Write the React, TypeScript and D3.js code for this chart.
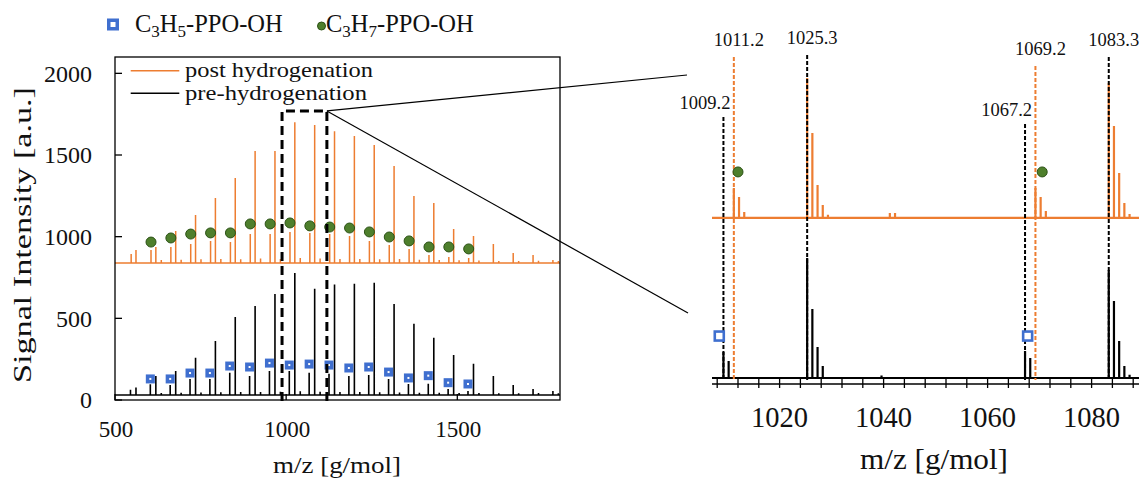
import React from "react";
import * as d3 from "d3";

const W = 1139;
const H = 482;
const FONT = '"Liberation Serif", "Times New Roman", Times, serif';
const ORANGE = "#ED7D31";
const BLUE = "#3F6FCF";
const GREEN = "#4E7F2C";
const GREEN_DARK = "#2C5216";

// ---------- full spectrum (left panel) ----------
// C3H7-PPO-OH family (post hydrogenation, orange) and the shared main series
const C3H7_MZ = [547.2, 605.2, 663.2, 721.2, 779.2, 837.2, 895.2, 953.2, 1011.2, 1069.2, 1127.2, 1185.2, 1243.2, 1301.2, 1359.2, 1417.2, 1475.2, 1533.2];
const POST_C3H7_INT = [55, 80, 98, 116, 135, 128, 177, 177, 190, 183, 177, 165, 135, 110, 86, 49, 37, 31];

// C3H5-PPO-OH family (pre hydrogenation, black)
const C3H5_MZ = [545.2, 603.2, 661.2, 719.2, 777.2, 835.2, 893.2, 951.2, 1009.2, 1067.2, 1125.2, 1183.2, 1241.2, 1299.2, 1357.2, 1415.2, 1473.2, 1531.2];
const PRE_C3H5_INT = [31, 65, 61, 98, 98, 136, 116, 147, 147, 136, 130, 116, 122, 98, 67, 69, 37, 24];

// dominant series, present in both spectra
const MAIN_MZ = [561.3, 619.3, 677.3, 735.3, 793.3, 851.3, 909.3, 967.3, 1025.3, 1083.3, 1141.3, 1199.3, 1257.3, 1315.3, 1373.3, 1431.3, 1489.3, 1547.3, 1605.3, 1663.3, 1721.3, 1779.3];
const POST_MAIN_INT = [80, 98, 196, 294, 398, 520, 685, 685, 862, 844, 807, 777, 722, 593, 410, 367, 208, 165, 116, 61, 49, 18];
const PRE_MAIN_INT = [45, 116, 147, 228, 330, 477, 544, 618, 746, 650, 676, 681, 687, 557, 436, 350, 245, 191, 116, 61, 37, 24];

// tiny side peaks
const MINOR_MZ = [635.2, 693.2, 751.2, 809.2, 867.2, 925.2, 983.2, 1041.2, 1099.2, 1157.2, 1215.2, 1273.2, 1331.2, 1389.2, 1447.2, 1505.2, 1563.2, 1621.2, 1679.2, 1737.2, 1795.2];
const POST_MINOR_INT = [18, 20, 22, 25, 22, 28, 25, 30, 28, 25, 24, 22, 25, 20, 18, 16, 15, 12, 12, 14, 12];
const PRE_MINOR_INT = [12, 14, 15, 16, 18, 18, 20, 22, 20, 18, 18, 16, 15, 14, 14, 12, 12, 10, 10, 12, 10];

// baselines of the two traces
const POST_BASE = 839;
const PRE_BASE = 31;

// markers (left panel)
const GREEN_MZ = [605.2, 663.2, 721.2, 779.2, 837.2, 895.2, 953.2, 1011.2, 1069.2, 1127.2, 1185.2, 1243.2, 1301.2, 1359.2, 1417.2, 1475.2, 1533.2];
const GREEN_INT = [967, 992, 1016, 1023, 1023, 1078, 1078, 1084, 1066, 1059, 1053, 1029, 998, 974, 937, 937, 925];
const BLUE_MZ = [603.2, 661.2, 719.2, 777.2, 835.2, 893.2, 951.2, 1009.2, 1067.2, 1125.2, 1183.2, 1241.2, 1299.2, 1357.2, 1415.2, 1473.2, 1531.2];
const BLUE_INT = [129, 129, 165, 165, 208, 202, 226, 214, 220, 214, 196, 202, 171, 135, 149, 106, 98];

const X_TICKS_L = [500, 1000, 1500];
const Y_TICKS_L = [0, 500, 1000, 1500, 2000];
const BOX_MZ = [988, 1119];
const BOX_TOP = 1770;

// ---------- zoom (right panel) ----------
const ZOOM_PRE_MZ = [1009.2, 1010.2, 1025.3, 1026.3, 1027.3, 1028.3, 1039.6, 1067.2, 1068.2, 1083.3, 1084.3, 1085.3, 1086.3, 1087.3];
const ZOOM_PRE_INT = [160, 105, 741, 426, 191, 74, 15, 167, 123, 667, 475, 228, 74, 20];
const ZOOM_POST_MZ = [1011.2, 1012.2, 1013.2, 1025.3, 1026.3, 1027.3, 1028.3, 1029.3, 1041.2, 1042.2, 1069.2, 1070.2, 1071.2, 1083.3, 1084.3, 1085.3, 1086.3, 1087.3];
const ZOOM_POST_INT = [185, 130, 37, 864, 525, 204, 80, 19, 30, 30, 185, 130, 43, 833, 568, 278, 93, 25];
const ZOOM_PRE_BASE = 37;
const ZOOM_POST_BASE = 1025;
const ZOOM_GREEN_MZ = [1012.0, 1070.5];
const ZOOM_GREEN_INT = [1309, 1309];
const ZOOM_BLUE_MZ = [1008.4, 1067.7];
const ZOOM_BLUE_INT = [296, 296];
const ZOOM_TICKS = [1020, 1040, 1060, 1080];
const ZOOM_MINOR = [1008, 1012, 1016, 1020, 1024, 1028, 1032, 1036, 1040, 1044, 1048, 1052, 1056, 1060, 1064, 1068, 1072, 1076, 1080, 1084, 1088];

const ANNOT_MZ = [1009.2, 1011.2, 1025.3, 1067.2, 1069.2, 1083.3];
const ANNOT_LABEL = ["1009.2", "1011.2", "1025.3", "1067.2", "1069.2", "1083.3"];
const ANNOT_SERIES = ["pre", "post", "pre", "pre", "post", "pre"];
const ANNOT_TOP = [1648, 2019, 2031, 1605, 1963, 2019];

type Scale = d3.ScaleLinear<number, number>;

function sticks(mz: number[], ints: number[], base: number, x: Scale, y: Scale) {
  const order = mz.map((m, i) => [m, ints[i]]).sort((a, b) => a[0] - b[0]);
  const y0 = y(base);
  const pts: [number, number][] = [[x.range()[0], y0]];
  order.forEach(([m, v]) => {
    const px = x(m);
    pts.push([px, y0], [px, y(base + v)], [px, y0]);
  });
  pts.push([x.range()[1], y0]);
  return d3.line()(pts) || "";
}

function Formula({ sub }: { sub: string }) {
  return (
    <>
      C<tspan fontSize="17" dy="5">3</tspan>
      <tspan dy="-5">H</tspan>
      <tspan fontSize="17" dy="5">{sub}</tspan>
      <tspan dy="-5">-PPO-OH</tspan>
    </>
  );
}

export default function App() {
  const xL = d3.scaleLinear().domain([500, 1800]).range([115, 560]);
  const yL = d3.scaleLinear().domain([0, 2100]).range([400, 57]);
  const xR = d3.scaleLinear().domain([1007, 1089.5]).range([712, 1141]);
  const yR = d3.scaleLinear().domain([0, 2100]).range([384, 43.8]);

  const postPath = sticks(
    [...C3H7_MZ, ...MAIN_MZ, ...MINOR_MZ],
    [...POST_C3H7_INT, ...POST_MAIN_INT, ...POST_MINOR_INT],
    POST_BASE, xL, yL
  );
  const prePath = sticks(
    [...C3H5_MZ, ...MAIN_MZ, ...MINOR_MZ],
    [...PRE_C3H5_INT, ...PRE_MAIN_INT, ...PRE_MINOR_INT],
    PRE_BASE, xL, yL
  );
  const zoomPre = sticks(ZOOM_PRE_MZ, ZOOM_PRE_INT, ZOOM_PRE_BASE, xR, yR);
  const zoomPost = sticks(ZOOM_POST_MZ, ZOOM_POST_INT, ZOOM_POST_BASE, xR, yR);

  const corner: [number, number] = [xL(BOX_MZ[1]), yL(BOX_TOP)];
  const axisY = yR(0);

  return (
    <svg
      width={W}
      height={H}
      style={{ position: "fixed", left: 0, top: 0, display: "block", background: "#fff" }}
      fontFamily={FONT}
    >
      {/* top legend */}
      <rect x={108.75} y={20.25} width={8.5} height={8.5} fill="#fff" stroke={BLUE} strokeWidth={3.5} />
      <text x={135} y={32} fontSize={24.5} fill="#111">
        <Formula sub="5" />
      </text>
      <circle cx={321.5} cy={26} r={4} fill={GREEN} stroke={GREEN_DARK} strokeWidth={1} />
      <text x={326} y={32} fontSize={24.5} fill="#111">
        <Formula sub="7" />
      </text>

      {/* left panel traces */}
      <path d={postPath} fill="none" stroke={ORANGE} strokeWidth={1.5} />
      <path d={prePath} fill="none" stroke="#000" strokeWidth={1.6} />

      {GREEN_MZ.map((m, i) => (
        <circle key={"g" + i} cx={xL(m)} cy={yL(GREEN_INT[i])} r={5} fill={GREEN} stroke={GREEN_DARK} strokeWidth={1} />
      ))}
      {BLUE_MZ.map((m, i) => (
        <rect key={"b" + i} x={xL(m) - 2.75} y={yL(BLUE_INT[i]) - 2.75} width={5.5} height={5.5} fill="#fff" stroke={BLUE} strokeWidth={3.5} />
      ))}

      {/* zoom box */}
      <path
        d={`M${xL(BOX_MZ[0])},${yL(0) + 1}V${yL(BOX_TOP)}H${xL(BOX_MZ[1])}V${yL(0) + 1}`}
        fill="none" stroke="#000" strokeWidth={3} strokeDasharray="9 5"
      />
      <line x1={corner[0]} y1={corner[1]} x2={687} y2={75} stroke="#000" strokeWidth={1.2} />
      <line x1={corner[0]} y1={corner[1]} x2={688} y2={313} stroke="#000" strokeWidth={1.2} />

      {/* left frame and axes */}
      <rect x={115} y={57} width={445} height={343} fill="none" stroke="#000" strokeWidth={1.3} />
      {Y_TICKS_L.map((t) => (
        <g key={"yt" + t}>
          <line x1={115} x2={122} y1={yL(t)} y2={yL(t)} stroke="#000" strokeWidth={1.3} />
          <text x={92} y={yL(t)} dy="0.35em" textAnchor="end" fontSize={24} fill="#111">{t}</text>
        </g>
      ))}
      {X_TICKS_L.map((t) => (
        <g key={"xt" + t}>
          <line x1={xL(t)} x2={xL(t)} y1={400} y2={394} stroke="#000" strokeWidth={1.3} />
          <text x={xL(t) + 1} y={437} textAnchor="middle" fontSize={23} fill="#111">{t}</text>
        </g>
      ))}
      <text x={337} y={473} textAnchor="middle" fontSize={24} textLength={128} lengthAdjust="spacingAndGlyphs" fill="#111">m/z [g/mol]</text>
      <text transform="translate(31,235) rotate(-90)" textAnchor="middle" fontSize={24.5} textLength={296} lengthAdjust="spacingAndGlyphs" fill="#111">
        Signal Intensity [a.u.]
      </text>

      {/* inner legend */}
      <line x1={130.7} x2={179.3} y1={70.7} y2={70.7} stroke={ORANGE} strokeWidth={1.6} />
      <text x={185} y={77} fontSize={21} textLength={188} lengthAdjust="spacingAndGlyphs" fill="#111">post hydrogenation</text>
      <line x1={130.7} x2={179.3} y1={93.3} y2={93.3} stroke="#000" strokeWidth={1.6} />
      <text x={185} y={100} fontSize={21} textLength={182} lengthAdjust="spacingAndGlyphs" fill="#111">pre-hydrogenation</text>

      {/* right panel */}
      <path d={zoomPost} fill="none" stroke={ORANGE} strokeWidth={2.2} />
      <path d={zoomPre} fill="none" stroke="#000" strokeWidth={2.2} />

      {ANNOT_MZ.map((m, i) => {
        const low = ANNOT_TOP[i] < 1700;
        const col = ANNOT_SERIES[i] === "post" ? ORANGE : "#000";
        return (
          <g key={"an" + i}>
            <line x1={xR(m)} x2={xR(m)} y1={yR(ANNOT_TOP[i])} y2={axisY - 4} stroke={col} strokeWidth={2} strokeDasharray="4 2" />
            <text
              x={xR(m) + (low ? 7 : 5)}
              y={yR(ANNOT_TOP[i]) - (low ? 8 : 11)}
              textAnchor={low ? "end" : "middle"}
              fontSize={18.5}
              fill="#111"
            >
              {ANNOT_LABEL[i]}
            </text>
          </g>
        );
      })}

      {ZOOM_GREEN_MZ.map((m, i) => (
        <circle key={"zg" + i} cx={xR(m)} cy={yR(ZOOM_GREEN_INT[i])} r={5} fill={GREEN} stroke={GREEN_DARK} strokeWidth={1} />
      ))}
      {ZOOM_BLUE_MZ.map((m, i) => (
        <rect key={"zb" + i} x={xR(m) - 4.5} y={yR(ZOOM_BLUE_INT[i]) - 4.5} width={9} height={9} fill="#fff" stroke={BLUE} strokeWidth={2.6} />
      ))}

      <line x1={712} x2={W} y1={axisY} y2={axisY} stroke="#000" strokeWidth={1.5} />
      {ZOOM_MINOR.map((t) => (
        <line key={"zm" + t} x1={xR(t)} x2={xR(t)} y1={axisY - 6} y2={axisY + 4} stroke="#000" strokeWidth={1.3} />
      ))}
      {ZOOM_TICKS.map((t) => (
        <text key={"zt" + t} x={xR(t)} y={427} textAnchor="middle" fontSize={28.5} fill="#111">{t}</text>
      ))}
      <text x={934} y={469} textAnchor="middle" fontSize={30} textLength={148} lengthAdjust="spacingAndGlyphs" fill="#111">m/z [g/mol]</text>
    </svg>
  );
}
